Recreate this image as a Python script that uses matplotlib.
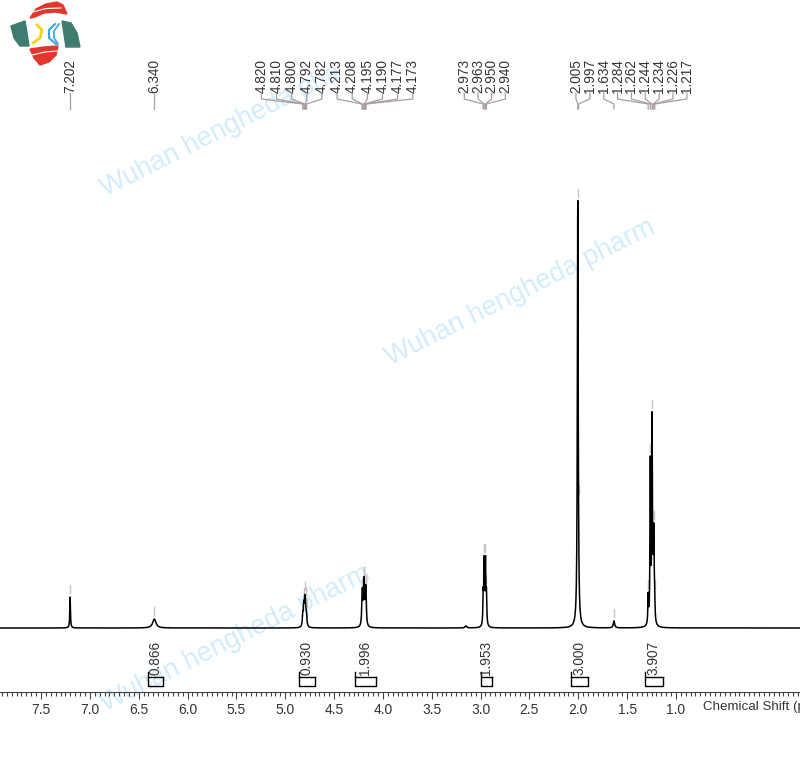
import matplotlib

matplotlib.use("Agg")
import matplotlib.pyplot as plt
import numpy as np
from matplotlib.patches import Polygon, Rectangle
from matplotlib.ticker import FixedLocator, MultipleLocator

plt.rcParams["font.family"] = ["Liberation Sans", "DejaVu Sans"]

# peak list (ppm, height in px above baseline, half width in ppm)
peak_ppm = [7.202, 6.340,
            4.820, 4.810, 4.800, 4.792, 4.782,
            4.213, 4.208, 4.195, 4.190, 4.177, 4.173,
            2.973, 2.963, 2.950, 2.940,
            2.005, 1.997, 1.634,
            1.284, 1.262, 1.244, 1.234, 1.226, 1.217]
peak_height = [31, 9,
               11, 19, 23, 19, 11,
               22, 22, 28, 28, 22, 22,
               30, 62, 62, 30,
               425, 12, 7,
               28, 160, 200, 30, 85, 15]
peak_width = [0.004, 0.02,
              0.005, 0.005, 0.005, 0.005, 0.005,
              0.005, 0.005, 0.005, 0.005, 0.005, 0.005,
              0.004, 0.004, 0.004, 0.004,
              0.005, 0.004, 0.008,
              0.004, 0.004, 0.004, 0.004, 0.004, 0.004]

# small unlabelled bumps on the baseline
minor_ppm = [3.15]
minor_height = [2]

# labelled groups at the top (indices into peak_ppm) and their label spacing
label_groups = [[0], [1], list(range(2, 13)), list(range(13, 17)), list(range(17, 26))]
label_step = [0.0, 0.0, 0.155, 0.14, 0.142]

# integrals
int_from = [6.405, 4.86, 4.287, 2.997, 2.076, 1.318]
int_to = [6.252, 4.70, 4.072, 2.884, 1.902, 1.134]
int_value = ["0.866", "0.930", "1.996", "1.953", "3.000", "3.907"]

tick_values = [8.0, 7.5, 7.0, 6.5, 6.0, 5.5, 5.0, 4.5, 4.0, 3.5, 3.0, 2.5, 2.0, 1.5, 1.0]

ppm = np.arange(-0.4, 8.1, 0.0002)
spec = np.zeros_like(ppm)
for p, h, w in zip(peak_ppm, peak_height, peak_width):
    spec += h * w ** 2 / ((ppm - p) ** 2 + w ** 2)
for p, h in zip(minor_ppm, minor_height):
    spec += h * 0.01 ** 2 / ((ppm - p) ** 2 + 0.01 ** 2)

fig = plt.figure(figsize=(8, 7.63), dpi=100)
ax = fig.add_axes([0, 0, 1, 1])
ax.patch.set_alpha(0)
ax.set_xlim(7.92, -0.27)
ax.set_ylim(-135, 628)

# watermark
wm = dict(color="#d2ecfb", fontsize=19.5, rotation=26.6, rotation_mode="anchor",
          ha="left", va="baseline", zorder=0.5, transform=fig.transFigure)
ax.text(105 / 800, 1 - 197 / 763, "Wuhan hengheda pharm", **wm)
ax.text(390 / 800, 1 - 366 / 763, "Wuhan hengheda pharm", **wm)
ax.text(105 / 800, 1 - 712 / 763, "Wuhan hengheda pharm", **wm)
ax.add_patch(Rectangle((338 / 800, 1 - 100 / 763), 0.5, 0.2, transform=fig.transFigure,
                       color="white", zorder=0.7))

ax.plot(ppm, spec, color="black", lw=1.1, zorder=3)

# peak markers above each picked peak
for p in peak_ppm:
    top = np.interp(p, ppm, spec)
    ax.plot([p, p], [top + 4, top + 12], color="#c9c2c2", lw=1, zorder=2)

# peak labels with connectors
for grp, step in zip(label_groups, label_step):
    centre = np.mean([peak_ppm[i] for i in grp])
    n = len(grp)
    for k, i in enumerate(grp):
        lx = centre + (n - 1) / 2 * step - k * step
        px = peak_ppm[i]
        ax.text(lx, 628 - 93, f"{px:.3f}", rotation=90, ha="center", va="bottom",
                fontsize=9.8, color="#333333", zorder=4)
        ax.plot([lx, lx, px, px], [628 - 93, 628 - 99, 628 - 104, 628 - 109],
                color="#a89e9e", lw=0.9, zorder=4)

# integral brackets
for a, b, v in zip(int_from, int_to, int_value):
    ax.plot([a, a, b, b], [-44, -58, -58, -49], color="black", lw=1)
    ax.plot([a, b], [-49, -49], color="black", lw=1)
    ax.text((a + b) / 2, -47, v, rotation=90, ha="center", va="bottom",
            fontsize=9.8, color="#333333")

# ruler axis
for s in ["top", "left", "right"]:
    ax.spines[s].set_visible(False)
ax.spines["bottom"].set_position(("data", -64))
ax.spines["bottom"].set_color("#444444")
ax.xaxis.set_major_locator(FixedLocator(tick_values))
ax.xaxis.set_minor_locator(MultipleLocator(0.05))
ax.xaxis.set_major_formatter(plt.FuncFormatter(lambda v, _: f"{v:.1f}"))
ax.tick_params(axis="x", which="major", length=5, width=0.8, color="#444444",
               labelsize=10, labelcolor="#333333", pad=3)
ax.tick_params(axis="x", which="minor", length=3, width=0.8, color="#444444")
ax.set_yticks([])
ax.text(0.72, -73, "Chemical Shift (ppm)", ha="left", va="top",
        fontsize=9.6, color="#333333")

# logo
lg = fig.add_axes([0, 1 - 70 / 763, 90 / 800, 70 / 763])
lg.set_xlim(0, 90)
lg.set_ylim(70, 0)
lg.axis("off")
lg.add_patch(Polygon([(30, 18), (36, 9), (46, 4), (57, 2), (63, 5), (67, 14), (55, 12), (44, 13), (35, 17)],
                     color="#e2372c"))
lg.add_patch(Polygon([(30, 49), (44, 47), (58, 46), (56, 55), (49, 62), (40, 65), (34, 58)],
                     color="#e2372c"))
lg.plot([33, 46, 61], [12, 8.5, 8], color="white", lw=0.8)
lg.plot([32, 45, 57], [55, 52, 51], color="white", lw=0.8)
lg.add_patch(Polygon([(11, 26), (25, 21), (27, 33), (29, 46), (20, 46), (14, 38)], color="#3f7c70"))
lg.add_patch(Polygon([(62, 21), (71, 23), (77, 33), (80, 47), (66, 47), (64, 34)], color="#3f7c70"))
lg.plot([37, 42, 40, 33], [25, 30, 38, 43], color="#f2d21b", lw=2)
lg.plot([55, 49, 49, 56], [24, 30, 38, 44], color="#3aa3e2", lw=1.5)
lg.plot([59, 54, 54, 58], [24, 31, 38, 44], color="#3aa3e2", lw=1.2)

fig.savefig("out.png", dpi=100)
